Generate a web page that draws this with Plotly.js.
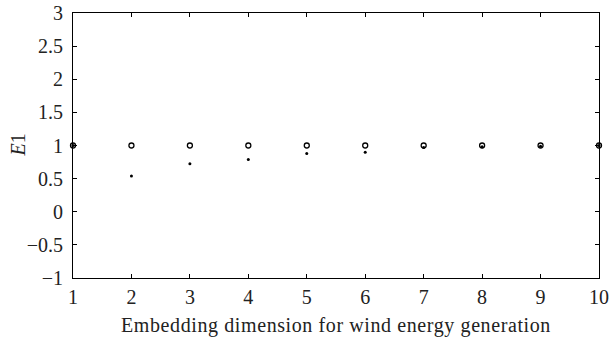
<!DOCTYPE html>
<html><head><meta charset="utf-8">
<script src="https://cdn.plot.ly/plotly-3.0.1.min.js"></script>
<style>body{margin:0;padding:0;background:#fff}#c{width:610px;height:343px}
.xtitle{letter-spacing:0.6px}</style>
</head><body><div id="c"></div>
<script>
const dims = [1,2,3,4,5,6,7,8,9,10];
const E1 = [1,0.54,0.725,0.79,0.88,0.90,0.97,0.98,0.99,1];
const E2 = [1,1,1,1,1,1,1,1,1,1];
const yTitle = '<i>E</i>1';
const xTitle = 'Embedding dimension for wind energy generation';
const font = {family:'"Liberation Serif","Times New Roman",serif', size:20, color:'#222'};
const traces = [
  {x:dims, y:E1, mode:'markers', type:'scatter', cliponaxis:false,
   marker:{symbol:'circle', size:3, color:'#000'}},
  {x:dims, y:E2, mode:'markers', type:'scatter', cliponaxis:false,
   marker:{symbol:'circle-open', size:5, color:'#000', line:{width:1.3, color:'#000'}}}
];
const ax = {showline:true, linecolor:'#000', linewidth:1, mirror:'ticks', ticks:'inside',
  ticklen:4, tickcolor:'#000', tickwidth:1, showgrid:false, zeroline:false, tickfont:font};
const layout = {
  width:610, height:343, margin:{l:73, r:11, t:13, b:65},
  paper_bgcolor:'#fff', plot_bgcolor:'#fff', showlegend:false, font:font,
  xaxis:Object.assign({}, ax, {range:[1,10], tickmode:'array', tickvals:dims, ticklabelstandoff:1,
    title:{text:xTitle, font:font, standoff:10}}),
  yaxis:Object.assign({}, ax, {range:[-1,3], tickmode:'linear', tick0:-1, dtick:0.5, ticklabelstandoff:5}),
  annotations:[{text:yTitle, xref:'paper', yref:'paper', x:-56/526, y:0.5, xanchor:'center', yanchor:'middle',
    textangle:-90, showarrow:false, font:font}]
};
Plotly.newPlot('c', traces, layout, {staticPlot:true});
</script></body></html>
